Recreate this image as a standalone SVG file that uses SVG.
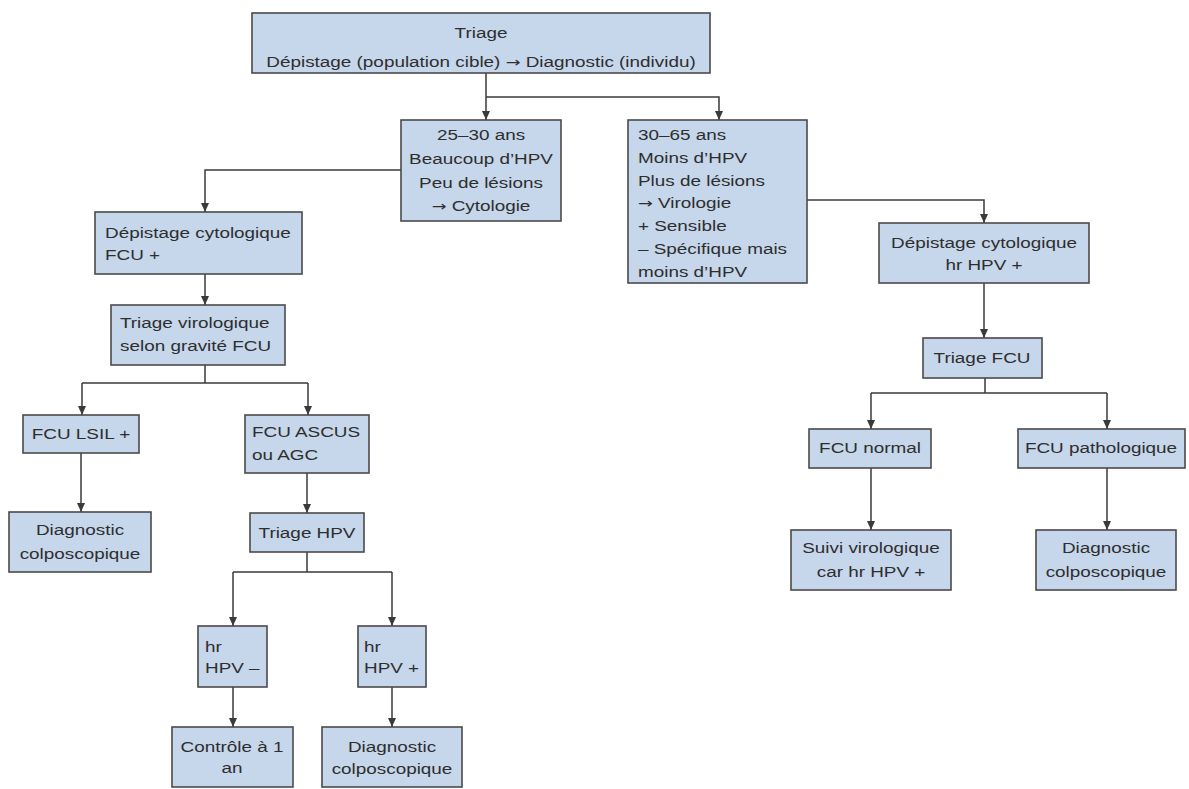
<svg xmlns="http://www.w3.org/2000/svg" width="1189" height="789" viewBox="0 0 1189 789">
<defs>
<marker id="ah" markerUnits="userSpaceOnUse" markerWidth="10" markerHeight="10" refX="9" refY="5" orient="auto">
<path d="M0,1 L9,5 L0,9 Z" fill="#3a3a3a"/>
</marker>
<style>
.box{fill:#c6d6eb;stroke:#4a4a4a;stroke-width:1.6}
.t{font-family:"Liberation Sans",Arial,sans-serif;font-size:15px;fill:#2e2e2e}
.c{text-anchor:middle}
.l{text-anchor:start}
.ar{font-family:"DejaVu Sans",sans-serif;font-size:14px}
.cn path{fill:none;stroke:#3a3a3a;stroke-width:1.5}
</style>
</defs>
<rect width="1189" height="789" fill="#fff"/>
<g class="cn" id="connectors">
<path d="M486,73 V120" marker-end="url(#ah)"/>
<path d="M486,97 H719 V120" marker-end="url(#ah)"/>
<path d="M401,170 H205 V212" marker-end="url(#ah)"/>
<path d="M807,200 H984 V223" marker-end="url(#ah)"/>
<path d="M205,274 V305" marker-end="url(#ah)"/>
<path d="M205,365 V383 M82,383 H308"/>
<path d="M82,383 V415" marker-end="url(#ah)"/>
<path d="M308,383 V415" marker-end="url(#ah)"/>
<path d="M81,453 V512" marker-end="url(#ah)"/>
<path d="M307,473 V513" marker-end="url(#ah)"/>
<path d="M307,552 V572 M233,572 H392"/>
<path d="M233,572 V626" marker-end="url(#ah)"/>
<path d="M392,572 V626" marker-end="url(#ah)"/>
<path d="M233,687 V727" marker-end="url(#ah)"/>
<path d="M392,687 V727" marker-end="url(#ah)"/>
<path d="M984,283 V338" marker-end="url(#ah)"/>
<path d="M985,378 V393 M871,393 H1107"/>
<path d="M871,393 V429" marker-end="url(#ah)"/>
<path d="M1107,393 V429" marker-end="url(#ah)"/>
<path d="M871,468 V530" marker-end="url(#ah)"/>
<path d="M1107,468 V530" marker-end="url(#ah)"/>
</g>
<g id="top"><rect class="box" x="252" y="13" width="458" height="60"/>
<text class="t c" transform="translate(481,38) scale(1.26,1)"><tspan x="0">Triage</tspan><tspan x="0" dy="29">Dépistage (population cible) <tspan class="ar">→</tspan> Diagnostic (individu)</tspan></text></g>
<g id="n2530"><rect class="box" x="401" y="120" width="160" height="101"/>
<text class="t c" transform="translate(481,140) scale(1.26,1)"><tspan x="0">25–30 ans</tspan><tspan x="0" dy="24">Beaucoup d’HPV</tspan><tspan x="0" dy="24">Peu de lésions</tspan><tspan x="0" dy="23"><tspan class="ar">→</tspan> Cytologie</tspan></text></g>
<g id="n3065"><rect class="box" x="628" y="120" width="179" height="163"/>
<text class="t l" transform="translate(638,140) scale(1.26,1)"><tspan x="0">30–65 ans</tspan><tspan x="0" dy="23">Moins d’HPV</tspan><tspan x="0" dy="23">Plus de lésions</tspan><tspan x="0" dy="22"><tspan class="ar">→</tspan> Virologie</tspan><tspan x="0" dy="23">+ Sensible</tspan><tspan x="0" dy="23">– Spécifique mais</tspan><tspan x="0" dy="23">moins d’HPV</tspan></text></g>
<g id="depL"><rect class="box" x="95" y="212" width="207" height="62"/>
<text class="t l" transform="translate(105,238) scale(1.26,1)"><tspan x="0">Dépistage cytologique</tspan><tspan x="0" dy="22">FCU +</tspan></text></g>
<g id="triVir"><rect class="box" x="111" y="305" width="174" height="60"/>
<text class="t l" transform="translate(120,328) scale(1.26,1)"><tspan x="0">Triage virologique</tspan><tspan x="0" dy="23">selon gravité FCU</tspan></text></g>
<g id="lsil"><rect class="box" x="23" y="415" width="116" height="38"/>
<text class="t c" transform="translate(81,439) scale(1.26,1)">FCU LSIL +</text></g>
<g id="diagL"><rect class="box" x="9" y="512" width="142" height="60"/>
<text class="t c" transform="translate(80,535) scale(1.26,1)"><tspan x="0">Diagnostic</tspan><tspan x="0" dy="24">colposcopique</tspan></text></g>
<g id="ascus"><rect class="box" x="245" y="415" width="124" height="58"/>
<text class="t l" transform="translate(252,437) scale(1.26,1)"><tspan x="0">FCU ASCUS</tspan><tspan x="0" dy="23">ou AGC</tspan></text></g>
<g id="triHPV"><rect class="box" x="250" y="513" width="114" height="39"/>
<text class="t c" transform="translate(307,538) scale(1.26,1)">Triage HPV</text></g>
<g id="hrNeg"><rect class="box" x="198" y="626" width="69" height="61"/>
<text class="t l" transform="translate(205,652) scale(1.26,1)"><tspan x="0">hr</tspan><tspan x="0" dy="21">HPV –</tspan></text></g>
<g id="hrPos"><rect class="box" x="358" y="626" width="68" height="61"/>
<text class="t l" transform="translate(364,652) scale(1.26,1)"><tspan x="0">hr</tspan><tspan x="0" dy="21">HPV +</tspan></text></g>
<g id="ctrl"><rect class="box" x="172" y="727" width="121" height="60"/>
<text class="t c" transform="translate(232,752) scale(1.26,1)"><tspan x="0">Contrôle à 1</tspan><tspan x="0" dy="21">an</tspan></text></g>
<g id="diagB"><rect class="box" x="322" y="727" width="140" height="60"/>
<text class="t c" transform="translate(392,752) scale(1.26,1)"><tspan x="0">Diagnostic</tspan><tspan x="0" dy="22">colposcopique</tspan></text></g>
<g id="depR"><rect class="box" x="879" y="223" width="210" height="60"/>
<text class="t c" transform="translate(984,248) scale(1.26,1)"><tspan x="0">Dépistage cytologique</tspan><tspan x="0" dy="22">hr HPV +</tspan></text></g>
<g id="triFCU"><rect class="box" x="923" y="338" width="119" height="40"/>
<text class="t c" transform="translate(982,363) scale(1.26,1)">Triage FCU</text></g>
<g id="fcuN"><rect class="box" x="809" y="429" width="122" height="39"/>
<text class="t c" transform="translate(870,453) scale(1.26,1)">FCU normal</text></g>
<g id="fcuP"><rect class="box" x="1018" y="429" width="167" height="39"/>
<text class="t c" transform="translate(1101,453) scale(1.26,1)">FCU pathologique</text></g>
<g id="suivi"><rect class="box" x="791" y="530" width="160" height="60"/>
<text class="t c" transform="translate(871,553) scale(1.26,1)"><tspan x="0">Suivi virologique</tspan><tspan x="0" dy="24">car hr HPV +</tspan></text></g>
<g id="diagR"><rect class="box" x="1036" y="530" width="140" height="60"/>
<text class="t c" transform="translate(1106,553) scale(1.26,1)"><tspan x="0">Diagnostic</tspan><tspan x="0" dy="24">colposcopique</tspan></text></g>
</svg>
